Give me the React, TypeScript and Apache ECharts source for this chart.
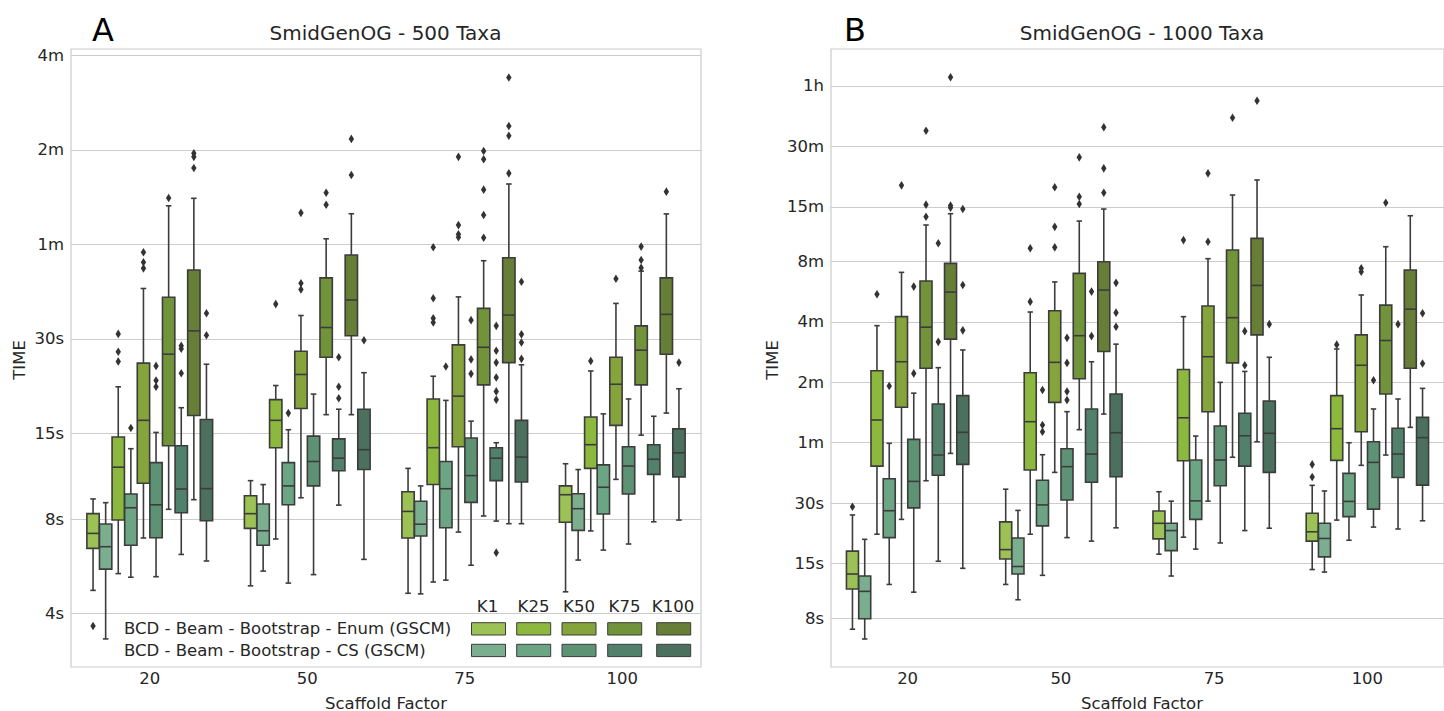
import React, { useEffect, useRef } from 'react';
import * as echarts from 'echarts';

const categories = ['20', '50', '75', '100'];
const kLabels = ['K1', 'K25', 'K50', 'K75', 'K100'];
const methodLabels = ['BCD - Beam - Bootstrap - Enum (GSCM)', 'BCD - Beam - Bootstrap - CS (GSCM)'];
const enumColors = ['#9cc154', '#8cb83e', '#85a43b', '#71943a', '#667e36'];
const csColors = ['#7aae8f', '#6ba583', '#5e9274', '#51816a', '#4b705d'];

const ticksA = [4, 8, 15, 30, 60, 120, 240];
const tickLabelsA = ['4s', '8s', '15s', '30s', '1m', '2m', '4m'];
const ticksB = [8, 15, 30, 60, 120, 240, 480, 900, 1800, 3600];
const tickLabelsB = ['8s', '15s', '30s', '1m', '2m', '4m', '8m', '15m', '30m', '1h'];

// box stats in seconds: [low whisker, Q1, median, Q3, high whisker], indexed [scaffold factor][K]
const aEnumBoxes = [
  [[4.74, 6.45, 7.2, 8.32, 9.27], [5.36, 7.94, 11.7, 14.6, 21.1], [6.96, 10.4, 16.5, 25.1, 43.4], [8.59, 13.7, 26.8, 40.7, 79.6], [9.22, 17.1, 31.8, 49.7, 84.1]],
  [[4.9, 7.47, 8.32, 9.49, 10.6], [6.91, 13.5, 16.5, 19.2, 21.3], [9.35, 18.0, 23.1, 27.4, 35.6], [17.2, 26.2, 32.6, 46.9, 62.5], [17.2, 30.7, 39.9, 55.5, 75.1]],
  [[4.64, 6.96, 8.46, 9.77, 11.6], [5.04, 10.3, 13.5, 19.3, 22.8], [7.27, 13.6, 19.7, 28.7, 40.8], [8.18, 21.4, 28.2, 37.5, 53.2], [7.73, 25.2, 35.7, 54.4, 93.4]],
  [[4.69, 7.81, 9.56, 10.2, 12.0], [7.33, 11.6, 13.8, 16.9, 23.7], [10.7, 15.9, 21.5, 26.2, 38.9], [14.8, 21.4, 27.6, 33.0, 49.3], [17.4, 26.8, 35.9, 46.9, 75.0]],
];
const aCsBoxes = [
  [[3.32, 5.54, 6.53, 7.71, 9.02], [5.22, 6.6, 8.69, 9.61, 13.4], [5.24, 6.97, 8.88, 12.1, 15.1], [6.17, 8.38, 9.97, 13.7, 18.1], [5.88, 7.9, 10.0, 16.6, 24.9]],
  [[5.46, 6.6, 7.34, 8.93, 10.3], [5.0, 8.88, 10.2, 12.1, 15.4], [5.32, 10.2, 12.2, 14.7, 20.0], [8.86, 11.4, 12.5, 14.4, 17.9], [5.95, 11.5, 13.3, 17.9, 23.4]],
  [[4.62, 7.06, 7.7, 9.11, 10.2], [5.11, 7.5, 9.99, 12.2, 19.1], [5.7, 9.04, 11.0, 14.5, 16.4], [7.88, 10.6, 12.5, 13.5, 14.0], [7.73, 10.5, 12.6, 16.5, 24.8]],
  [[5.92, 7.36, 8.63, 9.63, 11.5], [6.37, 8.3, 10.1, 11.9, 17.3], [6.66, 9.61, 11.8, 13.6, 19.3], [7.84, 11.1, 12.4, 13.8, 17.0], [7.94, 10.9, 13.0, 15.5, 20.8]],
];
const aEnumOutliers = [
  [[3.65], [25.4, 27.3, 31.1], [50.3, 52.6, 56.6], [84.3], [105, 114, 117]],
  [[], [38.7], [43.1, 45.1, 75.6], [80.2, 87.6], [99.8, 130]],
  [[], [33.8, 34.9, 40.4, 58.7], [63.2, 64.6, 69.1, 114], [63, 74.4, 89.6, 112, 119], [101, 133, 143, 204]],
  [[], [25.5], [46.6], [50.5, 53.5, 59], [88.3]],
];
const aCsOutliers = [
  [[], [15.6], [21.1, 22.1, 24.6], [23.3, 27.9, 28.5], [30.8, 36.2]],
  [[], [17.4], [], [19.4, 21.1, 26.2], [29.7]],
  [[], [24.5], [23.2, 25.8, 34.4], [6.25, 19.2, 20.4, 22.6, 25.2, 27.5, 33.0], [25.9, 29.2, 31.0, 45.6]],
  [[], [], [], [], [25.2]],
];

const bEnumBoxes = [
  [[7.06, 11.2, 13.3, 17.3, 26.2], [21.0, 45.9, 77.9, 137, 230], [24.9, 90.1, 152, 255, 424], [38.8, 141, 226, 384, 730], [53.1, 197, 338, 470, 831]],
  [[11.8, 15.8, 17.6, 24.2, 35.2], [21.0, 43.9, 76.4, 134, 269], [42.7, 95.4, 151, 273, 380], [69.7, 125, 205, 419, 764], [83.4, 171, 346, 479, 877]],
  [[16.7, 19.9, 23.8, 27.4, 34.2], [20.3, 48.8, 79.9, 139, 255], [30.7, 85.7, 161, 288, 496], [50.8, 150, 252, 548, 1030], [60.7, 207, 365, 626, 1224]],
  [[14.0, 19.4, 21.6, 26.7, 36.8], [24.7, 49.0, 70.5, 103, 176], [46.3, 68.1, 146, 207, 327], [52.1, 105, 194, 291, 569], [71.6, 141, 278, 436, 812]],
];
const bCsBoxes = [
  [[6.31, 7.96, 10.9, 13.0, 19.8], [11.8, 20.2, 27.5, 39.7, 59.6], [10.8, 28.4, 38.5, 62.4, 106], [15.4, 41.3, 52.1, 93.6, 142], [14.2, 46.8, 67.6, 103, 174]],
  [[9.9, 13.3, 14.5, 20.1, 27.6], [13.1, 23.1, 29.4, 39.0, 52.3], [20.2, 31.1, 45.6, 56.0, 85.7], [19.4, 38.1, 52.7, 88.4, 152], [22.6, 40.6, 67.3, 105, 186]],
  [[13.0, 17.4, 21.9, 23.8, 30.7], [17.7, 24.9, 30.8, 49.2, 64.8], [19.0, 36.6, 49.2, 72.7, 120], [21.9, 45.9, 65, 84.1, 136], [22.5, 42.7, 66.9, 96.9, 160]],
  [[13.6, 16.2, 20.0, 23.8, 34.5], [19.6, 25.7, 30.6, 42.2, 60], [22.8, 28.0, 47.9, 60.7, 88.4], [22.3, 40.3, 52.7, 70.8, 99.1], [24.5, 36.9, 63.6, 80.3, 112]],
];
const bEnumOutliers = [
  [[28.8], [330], [1151], [803, 922, 2154], [890, 913, 3976]],
  [[], [303, 559], [565, 715, 1126], [929, 1010, 1587], [1057, 1399, 2240]],
  [[], [614], [602, 1321], [2501], [3040]],
  [[40.5, 46.8], [185], [427, 444], [943], []],
];
const bCsOutliers = [
  [[], [115], [133, 360], [191, 592], [218, 367, 877]],
  [[], [68.1, 73.5, 110], [98, 108, 150, 200], [204, 340], [227, 267, 376]],
  [[], [], [], [146, 216], [234]],
  [[], [], [123], [234], [149, 265]],
];

const FONT = 'DejaVu Sans';
const TEXT = '#262626';
const EDGE = '#3c3c3c';
const GRID_COLOR = '#cccccc';
const FS = 16.5;

function buildBoxData(enumBoxes: number[][][], csBoxes: number[][][]) {
  const out: number[][] = [];
  for (let g = 0; g < categories.length; g++) {
    for (let k = 0; k < kLabels.length; k++) {
      for (let m = 0; m < 2; m++) {
        const s = (m === 0 ? enumBoxes : csBoxes)[g][k];
        out.push([g, 2 * k + m, ...s.map((v) => Math.log2(v))]);
      }
    }
  }
  return out;
}

function buildOutlierData(enumOut: number[][][], csOut: number[][][]) {
  const out: number[][] = [];
  for (let g = 0; g < categories.length; g++) {
    for (let k = 0; k < kLabels.length; k++) {
      for (let m = 0; m < 2; m++) {
        (m === 0 ? enumOut : csOut)[g][k].forEach((v) => out.push([g, 2 * k + m, Math.log2(v)]));
      }
    }
  }
  return out;
}

function hueX(api: any, g: number, hue: number, yv: number) {
  const p0 = api.coord([0, yv]);
  const p1 = api.coord([1, yv]);
  const band = p1[0] - p0[0];
  const c = api.coord([g, yv]);
  return { cx: c[0] + band * (-0.36 + 0.08 * hue), band };
}

const renderBox = (_params: any, api: any) => {
  const g = api.value(0);
  const hue = api.value(1);
  const yLo = api.coord([g, api.value(2)])[1];
  const yQ1 = api.coord([g, api.value(3)])[1];
  const yMed = api.coord([g, api.value(4)])[1];
  const yQ3 = api.coord([g, api.value(5)])[1];
  const yHi = api.coord([g, api.value(6)])[1];
  const { cx, band } = hueX(api, g, hue, api.value(4));
  const w = band * 0.08 * 0.98;
  const cap = w * 0.45;
  const k = Math.floor(hue / 2);
  const fill = (hue % 2 === 0 ? enumColors : csColors)[k];
  const ls = { stroke: EDGE, lineWidth: 1.6 };
  return {
    type: 'group',
    children: [
      { type: 'line', shape: { x1: cx, y1: yQ3, x2: cx, y2: yHi }, style: ls },
      { type: 'line', shape: { x1: cx, y1: yQ1, x2: cx, y2: yLo }, style: ls },
      { type: 'line', shape: { x1: cx - cap / 2, y1: yHi, x2: cx + cap / 2, y2: yHi }, style: ls },
      { type: 'line', shape: { x1: cx - cap / 2, y1: yLo, x2: cx + cap / 2, y2: yLo }, style: ls },
      { type: 'rect', shape: { x: cx - w / 2, y: yQ3, width: w, height: yQ1 - yQ3 }, style: { fill, stroke: EDGE, lineWidth: 1.6 } },
      { type: 'line', shape: { x1: cx - w / 2, y1: yMed, x2: cx + w / 2, y2: yMed }, style: ls },
    ],
  };
};

const renderOutlier = (_params: any, api: any) => {
  const g = api.value(0);
  const hue = api.value(1);
  const y = api.coord([g, api.value(2)])[1];
  const { cx } = hueX(api, g, hue, api.value(2));
  const hw = 2.7;
  const hh = 4.3;
  return {
    type: 'polygon',
    shape: { points: [[cx, y - hh], [cx + hw, y], [cx, y + hh], [cx - hw, y]] },
    style: { fill: '#333333' },
  };
};

function tickFormatter(ticks: number[], labels: string[]) {
  return (v: number) => {
    const i = ticks.findIndex((t) => Math.abs(Math.log2(t) - v) < 1e-6);
    return i >= 0 ? labels[i] : '';
  };
}

function makeYAxis(gridIndex: number, min: number, max: number, ticks: number[], labels: string[]) {
  const vals = ticks.map((t) => Math.log2(t));
  return {
    type: 'value',
    gridIndex,
    min,
    max,
    axisLine: { show: false },
    axisTick: { show: false, customValues: vals },
    axisLabel: {
      customValues: vals,
      formatter: tickFormatter(ticks, labels),
      fontSize: FS,
      fontFamily: FONT,
      color: TEXT,
      margin: 7,
    },
    splitLine: { show: true, lineStyle: { color: GRID_COLOR, width: 1.2 } },
  };
}

function makeXAxis(gridIndex: number) {
  return {
    type: 'category',
    gridIndex,
    data: categories,
    axisLine: { show: false },
    axisTick: { show: false },
    axisLabel: { fontSize: FS, fontFamily: FONT, color: TEXT, margin: 3 },
    splitLine: { show: false },
  };
}

const legendLabelX = [487.5, 533.5, 579, 624.5, 673];
const legendPatchX = [471.5, 516.7, 562, 607.7, 656.7];

function buildGraphics() {
  const els: any[] = [];
  const txt = (x: number, y: number, text: string, size: number, align = 'center', rotation = 0, fill = TEXT) => ({
    type: 'text',
    x,
    y,
    rotation,
    style: { text, fontSize: size, fontFamily: FONT, fill, align, verticalAlign: 'middle' },
  });
  els.push(txt(385.5, 33, 'SmidGenOG - 500 Taxa', 20));
  els.push(txt(1142, 33, 'SmidGenOG - 1000 Taxa', 20));
  els.push(txt(92, 29.5, 'A', 32, 'left', 0, '#000000'));
  els.push(txt(844, 29.5, 'B', 32, 'left', 0, '#000000'));
  els.push(txt(19, 360, 'TIME', FS, 'center', Math.PI / 2));
  els.push(txt(772, 360, 'TIME', FS, 'center', Math.PI / 2));
  els.push(txt(386, 703, 'Scaffold Factor', FS));
  els.push(txt(1142, 703, 'Scaffold Factor', FS));
  kLabels.forEach((k, i) => {
    els.push(txt(legendLabelX[i], 606.5, k, FS));
    els.push({ type: 'rect', shape: { x: legendPatchX[i], y: 622.7, width: 34, height: 12.3 }, style: { fill: enumColors[i], stroke: EDGE, lineWidth: 1 } });
    els.push({ type: 'rect', shape: { x: legendPatchX[i], y: 644.3, width: 34, height: 12.3 }, style: { fill: csColors[i], stroke: EDGE, lineWidth: 1 } });
  });
  els.push(txt(124, 628.5, methodLabels[0], FS, 'left'));
  els.push(txt(124, 650, methodLabels[1], FS, 'left'));
  return els;
}

export default function App() {
  const ref = useRef<HTMLDivElement>(null);
  useEffect(() => {
    if (!ref.current) return;
    const chart = echarts.init(ref.current, undefined, { renderer: 'svg' });
    const option: any = {
      animation: false,
      backgroundColor: '#ffffff',
      grid: [
        { left: 71, top: 49, width: 630, height: 618, show: true, borderColor: GRID_COLOR, borderWidth: 1.2, backgroundColor: 'transparent' },
        { left: 831, top: 49, width: 622, height: 618, show: true, borderColor: GRID_COLOR, borderWidth: 1.2, backgroundColor: 'transparent' },
      ],
      xAxis: [makeXAxis(0), makeXAxis(1)],
      yAxis: [
        makeYAxis(0, 1.434, 7.974, ticksA, tickLabelsA),
        makeYAxis(1, 2.194, 12.426, ticksB, tickLabelsB),
      ],
      series: [
        { type: 'custom', xAxisIndex: 0, yAxisIndex: 0, renderItem: renderBox, encode: { x: 0, y: [2, 3, 4, 5, 6] }, data: buildBoxData(aEnumBoxes, aCsBoxes), z: 3 },
        { type: 'custom', xAxisIndex: 0, yAxisIndex: 0, renderItem: renderOutlier, encode: { x: 0, y: 2 }, data: buildOutlierData(aEnumOutliers, aCsOutliers), z: 4 },
        { type: 'custom', xAxisIndex: 1, yAxisIndex: 1, renderItem: renderBox, encode: { x: 0, y: [2, 3, 4, 5, 6] }, data: buildBoxData(bEnumBoxes, bCsBoxes), z: 3 },
        { type: 'custom', xAxisIndex: 1, yAxisIndex: 1, renderItem: renderOutlier, encode: { x: 0, y: 2 }, data: buildOutlierData(bEnumOutliers, bCsOutliers), z: 4 },
      ],
      graphic: buildGraphics(),
    };
    chart.setOption(option);
    return () => chart.dispose();
  }, []);
  return <div ref={ref} style={{ position: 'fixed', left: 0, top: 0, width: 1444, height: 711, background: '#fff' }} />;
}
